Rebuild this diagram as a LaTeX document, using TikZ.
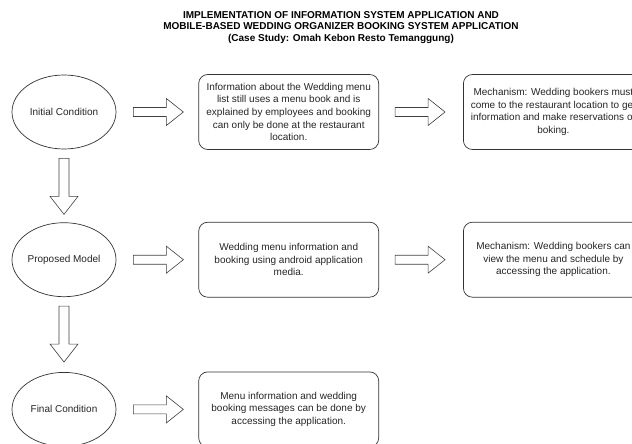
\documentclass[tikz,border=0pt]{standalone}
\usepackage{fontspec}
\setmainfont{Liberation Sans}
\usepackage{tikz}
\usetikzlibrary{shapes.geometric, positioning, calc}
\tikzset{
    heading/.style={align=center, text=black, font=\bfseries\fontsize{10}{11.7}\selectfont},
    condition/.style={ellipse, draw=black!80, minimum width=104pt, minimum height=74pt, inner sep=0pt, text=black!85, font=\fontsize{10}{12}\selectfont},
    infobox/.style={rectangle, rounded corners=9pt, draw=black!80, minimum width=180pt, minimum height=75pt, align=center, text=black!85, font=\fontsize{10}{12.7}\selectfont},
    rarrow/.pic={\draw[line width=0.6pt, draw=black!75] (0pt,4.5pt) -- (33pt,4.5pt) -- (33pt,13.5pt) -- (50pt,0pt) -- (33pt,-13.5pt) -- (33pt,-4.5pt) -- (0pt,-4.5pt) -- cycle;},
    darrow/.pic={\draw[line width=0.6pt, draw=black!75] (-5pt,0pt) -- (5pt,0pt) -- (5pt,-38pt) -- (14pt,-38pt) -- (0pt,-56pt) -- (-14pt,-38pt) -- (-5pt,-38pt) -- cycle;},
}
\begin{document}
\begin{tikzpicture}[x=1pt, y=1pt, line width=0.7pt]
    \useasboundingbox (0,0) rectangle (632,-444);
    \clip (0,0) rectangle (632,-444);
    \fill[white] (0,0) rectangle (632,-444);

    \node[heading] (title) at (341,-27.5) {IMPLEMENTATION OF INFORMATION SYSTEM APPLICATION AND\\
        MOBILE-BASED WEDDING ORGANIZER BOOKING SYSTEM APPLICATION\\
        (Case Study: Omah Kebon Resto Temanggung)};

    % conditions
    \node[condition] (initial) at (64,-112) {Initial Condition};
    \node[condition, below=73pt of initial] (proposed) {Proposed Model};
    \node[condition, below=75pt of proposed] (final) {Final Condition};

    % descriptions
    \node[infobox, right=82pt of initial] (oldinfo) {Information about the Wedding menu\\
        list still uses a menu book and is\\
        explained by employees and booking\\
        can only be done at the restaurant\\
        location.};
    \node[infobox, right=84pt of oldinfo] (oldmech) {Mechanism: Wedding bookers must\\
        come to the restaurant location to get\\
        information and make reservations or\\
        boking.};
    \node[infobox, right=82pt of proposed] (newinfo) {Wedding menu information and\\
        booking using android application\\
        media.};
    \node[infobox, right=84pt of newinfo] (newmech) {Mechanism: Wedding bookers can\\
        view the menu and schedule by\\
        accessing the application.};
    \node[infobox, right=82pt of final] (result) {Menu information and wedding\\
        booking messages can be done by\\
        accessing the application.};

    % block arrows
    \pic at ($(initial.east)+(17,0)$) {rarrow};
    \pic at ($(oldinfo.east)+(16,0)$) {rarrow};
    \pic at ($(proposed.east)+(17,0)$) {rarrow};
    \pic at ($(newinfo.east)+(16,0)$) {rarrow};
    \pic at ($(final.east)+(17,0)$) {rarrow};
    \pic at ($(initial.south)+(0,-9)$) {darrow};
    \pic at ($(proposed.south)+(0,-9)$) {darrow};
\end{tikzpicture}
\end{document}
